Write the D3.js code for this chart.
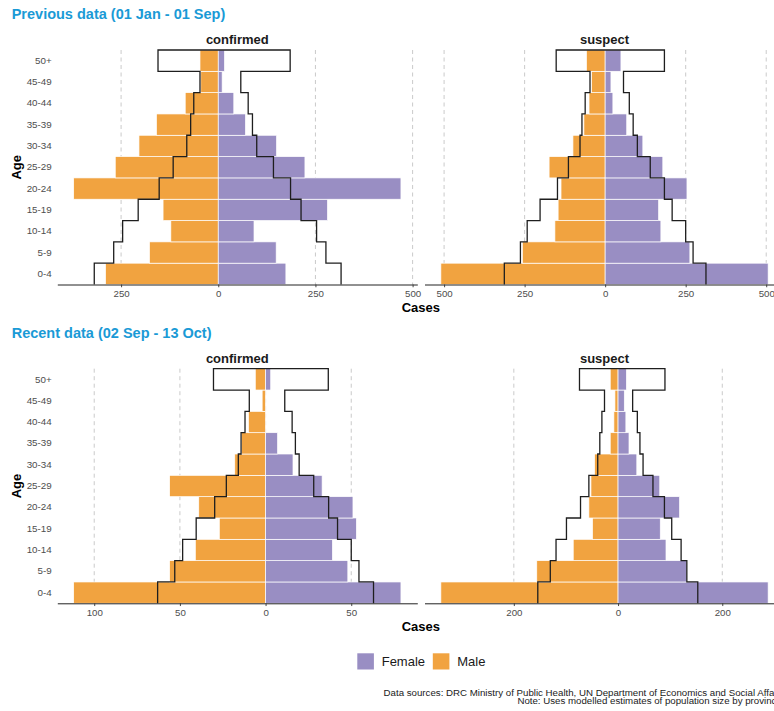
<!DOCTYPE html>
<html>
<head>
<meta charset="utf-8">
<script src="https://cdn.jsdelivr.net/npm/d3@7"></script>
<style>
  html, body { margin: 0; padding: 0; background: #fff; }
  svg { display: block; font-family: "Liberation Sans", Arial, sans-serif; }
</style>
</head>
<body>
<svg id="chart" width="774" height="711"></svg>
<script>
// Age groups, youngest first (drawn bottom to top)
const ages = ["0-4", "5-9", "10-14", "15-19", "20-24", "25-29", "30-34", "35-39", "40-44", "45-49", "50+"];

// Previous data (01 Jan - 01 Sep), confirmed cases
const prevConfirmedMale   = [290, 177, 122, 142, 372, 265, 204, 159, 85, 45, 47];
const prevConfirmedFemale = [174, 149, 92, 281, 470, 223, 150, 70, 40, 10, 16];
const prevConfirmedPopMale   = [319, 269, 246, 206, 152, 116, 81, 71, 63, 47, 155];
const prevConfirmedPopFemale = [316, 277, 253, 213, 186, 142, 99, 88, 77, 58, 185];

// Previous data, suspect cases
const prevSuspectMale   = [510, 257, 156, 146, 137, 174, 100, 66, 50, 42, 58];
const prevSuspectFemale = [506, 263, 173, 166, 254, 179, 117, 67, 24, 18, 49];
const prevSuspectPopMale   = [313, 263, 242, 202, 148, 114, 78, 72, 62, 47, 152];
const prevSuspectPopFemale = [313, 273, 250, 208, 184, 140, 100, 87, 75, 57, 184];

// Recent data (02 Sep - 13 Oct), confirmed cases
const recentConfirmedMale   = [112, 56, 41, 27, 39, 56, 18, 14, 10, 2, 6];
const recentConfirmedFemale = [79, 48, 39, 53, 51, 33, 16, 7, 0, 0, 3];
const recentConfirmedPopMale   = [63, 53, 48.4, 40.5, 29.7, 22.9, 15.9, 14.3, 12, 9.5, 30.4];
const recentConfirmedPopFemale = [63, 54.5, 50, 42, 36.8, 28.1, 19.6, 17.4, 15.5, 11.2, 36.6];

// Recent data, suspect cases
const recentSuspectMale   = [340, 156, 86, 49, 56, 52, 45, 15, 8, 6, 15];
const recentSuspectFemale = [288, 132, 92, 81, 118, 80, 36, 21, 15, 12, 16];
const recentSuspectPopMale   = [154, 130, 119, 99, 72, 56, 39, 35, 31, 26, 74];
const recentSuspectPopFemale = [153, 132, 121, 103, 89, 67, 48, 42, 37, 28, 90];

// Axis breaks (labels show absolute values)
const prevConfirmedTicks   = [-250, 0, 250, 500];
const prevSuspectTicks     = [-500, -250, 0, 250, 500];
const recentConfirmedTicks = [-100, -50, 0, 50];
const recentSuspectTicks   = [-200, 0, 200];

const sectionTitles = ["Previous data (01 Jan - 01 Sep)", "Recent data (02 Sep - 13 Oct)"];
const facetNames = ["confirmed", "suspect"];
const sexes = ["Female", "Male"];

const colFemale = "#998ec3";
const colMale = "#f1a340";
const colTitle = "#1a9ad6";

const panels = [
  { row: 0, col: 0, male: prevConfirmedMale, female: prevConfirmedFemale, popMale: prevConfirmedPopMale, popFemale: prevConfirmedPopFemale, ticks: prevConfirmedTicks },
  { row: 0, col: 1, male: prevSuspectMale, female: prevSuspectFemale, popMale: prevSuspectPopMale, popFemale: prevSuspectPopFemale, ticks: prevSuspectTicks },
  { row: 1, col: 0, male: recentConfirmedMale, female: recentConfirmedFemale, popMale: recentConfirmedPopMale, popFemale: recentConfirmedPopFemale, ticks: recentConfirmedTicks },
  { row: 1, col: 1, male: recentSuspectMale, female: recentSuspectFemale, popMale: recentSuspectPopMale, popFemale: recentSuspectPopFemale, ticks: recentSuspectTicks }
];

// Layout
const colX = [[57.3, 417.3], [424.5, 784.5]];
const rowY = [[50, 284.5], [368.7, 603.3]];
const titleY = [19.3, 337.8];
const stripY = [44, 363.3];

const svg = d3.select("#chart");

// Section titles and y-axis titles
rowY.forEach((ry, r) => {
  svg.append("text")
    .attr("x", 11.7).attr("y", titleY[r])
    .attr("font-size", 14.5).attr("font-weight", "bold")
    .attr("fill", colTitle)
    .text(sectionTitles[r]);

  svg.append("text")
    .attr("transform", `translate(21,${(ry[0] + ry[1]) / 2}) rotate(-90)`)
    .attr("text-anchor", "middle")
    .attr("font-size", 13).attr("font-weight", "bold")
    .attr("fill", "#000")
    .text("Age");

  svg.append("text")
    .attr("x", (colX[0][0] + colX[1][1]) / 2).attr("y", ry[1] + 27.5)
    .attr("text-anchor", "middle")
    .attr("font-size", 13).attr("font-weight", "bold")
    .attr("fill", "#000")
    .text("Cases");
});

panels.forEach(p => {
  const [x0, x1] = colX[p.col];
  const [y0, y1] = rowY[p.row];

  // Free x scale per panel, expanded by 5% on each side
  const lo = -d3.max(p.male.concat(p.popMale));
  const hi = d3.max(p.female.concat(p.popFemale));
  const pad = (hi - lo) * 0.05;
  const x = d3.scaleLinear().domain([lo - pad, hi + pad]).range([x0, x1]);
  const y = d3.scaleBand().domain(ages.slice().reverse()).range([y0, y1]).padding(0);

  const g = svg.append("g");

  // Facet strip label
  g.append("text")
    .attr("x", (x0 + x1) / 2).attr("y", stripY[p.row])
    .attr("text-anchor", "middle")
    .attr("font-size", 13).attr("font-weight", "bold")
    .attr("fill", "#1a1a1a")
    .text(facetNames[p.col]);

  // Dashed vertical gridlines
  g.append("g").selectAll("line").data(p.ticks).join("line")
    .attr("x1", d => x(d)).attr("x2", d => x(d))
    .attr("y1", y0).attr("y2", y1)
    .attr("stroke", "#c4c4c4").attr("stroke-width", 0.9)
    .attr("stroke-dasharray", "4,3.5");

  // Male bars (left of zero)
  g.append("g").selectAll("rect").data(ages).join("rect")
    .attr("x", (d, i) => x(-p.male[i]))
    .attr("y", d => y(d))
    .attr("width", (d, i) => x(0) - x(-p.male[i]))
    .attr("height", y.bandwidth())
    .attr("fill", colMale)
    .attr("stroke", "#fff").attr("stroke-width", 0.7);

  // Female bars (right of zero)
  g.append("g").selectAll("rect").data(ages).join("rect")
    .attr("x", x(0))
    .attr("y", d => y(d))
    .attr("width", (d, i) => x(p.female[i]) - x(0))
    .attr("height", y.bandwidth())
    .attr("fill", colFemale)
    .attr("stroke", "#fff").attr("stroke-width", 0.7);

  // Expected population outline: up the male side, across the top, down the female side
  const pts = [];
  ages.forEach((a, i) => {
    const xm = x(-p.popMale[i]);
    pts.push([xm, y(a) + y.bandwidth()]);
    pts.push([xm, y(a)]);
  });
  for (let i = ages.length - 1; i >= 0; i--) {
    const xf = x(p.popFemale[i]);
    pts.push([xf, y(ages[i])]);
    pts.push([xf, y(ages[i]) + y.bandwidth()]);
  }
  g.append("path")
    .attr("d", d3.line()(pts))
    .attr("fill", "none")
    .attr("stroke", "#1e1e1e").attr("stroke-width", 1.3)
    .attr("stroke-linejoin", "miter");

  // Bottom axis
  const ax = g.append("g")
    .attr("transform", `translate(0,${y1})`)
    .call(d3.axisBottom(x).tickValues(p.ticks).tickFormat(d => Math.abs(d))
      .tickSizeInner(2.75).tickSizeOuter(0).tickPadding(3.1));
  ax.select(".domain").attr("stroke", "#222").attr("stroke-width", 1);
  ax.selectAll(".tick line").attr("stroke", "#333").attr("stroke-width", 0.9);
  ax.selectAll(".tick text")
    .attr("font-size", 9.7).attr("fill", "#4d4d4d")
    .attr("font-family", "Liberation Sans, Arial, sans-serif");

  // Age labels on the left-hand panels only
  if (p.col === 0) {
    const ay = g.append("g")
      .attr("transform", `translate(${x0},0)`)
      .call(d3.axisLeft(y).tickSize(0).tickPadding(5.6));
    ay.select(".domain").remove();
    ay.selectAll(".tick text")
      .attr("font-size", 9.8).attr("fill", "#4d4d4d")
      .attr("font-family", "Liberation Sans, Arial, sans-serif");
  }
});

// Legend
const legend = svg.append("g");
const legendItems = [
  { label: sexes[0], color: colFemale, x: 357.3 },
  { label: sexes[1], color: colMale, x: 432.8 }
];
legendItems.forEach(it => {
  legend.append("rect")
    .attr("x", it.x).attr("y", 653.3)
    .attr("width", 16.6).attr("height", 16.2)
    .attr("fill", it.color);
  legend.append("text")
    .attr("x", it.x + 24.4).attr("y", 665.8)
    .attr("font-size", 13).attr("fill", "#1a1a1a")
    .text(it.label);
});

// Caption
const caption = [
  "Data sources: DRC Ministry of Public Health, UN Department of Economics and Social Affairs",
  "Note: Uses modelled estimates of population size by province."
];
caption.forEach((t, i) => {
  svg.append("text")
    .attr("x", 784.5).attr("y", 695.6 + i * 8.6)
    .attr("text-anchor", "end")
    .attr("font-size", 9.7).attr("fill", "#1a1a1a")
    .text(t);
});
</script>
</body>
</html>
